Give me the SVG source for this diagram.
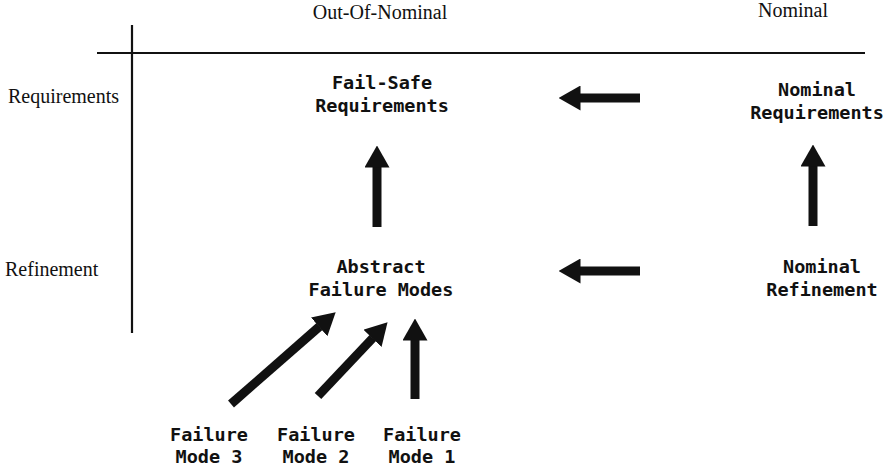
<svg xmlns="http://www.w3.org/2000/svg" width="892" height="469" viewBox="0 0 892 469">
<style>
.hdr{font-family:"Liberation Serif","Times New Roman",serif;font-size:20px;fill:#111}
.node{font-family:"DejaVu Sans Mono","Liberation Mono",monospace;font-size:18.5px;font-weight:bold;fill:#111;text-anchor:middle}
.axis{stroke:#111;stroke-width:2.2;fill:none}
.arr{stroke:#111;stroke-width:9;fill:none;marker-end:url(#head)}
</style>
<defs>
<marker id="head" viewBox="0 0 22 25" markerUnits="userSpaceOnUse" markerWidth="22" markerHeight="25" refX="0.5" refY="12.5" orient="auto">
<path d="M0,0 L22,12.5 L0,25 z" fill="#111"/>
</marker>
</defs>
<rect width="892" height="469" fill="#fff"/>
<g id="axes">
<line class="axis" x1="97" y1="53" x2="865" y2="53"/>
<line class="axis" x1="132" y1="25" x2="132" y2="333"/>
</g>
<g id="labels">
<text class="hdr" x="380" y="19" text-anchor="middle">Out-Of-Nominal</text>
<text class="hdr" x="793" y="17" text-anchor="middle">Nominal</text>
<text class="hdr" x="8" y="103">Requirements</text>
<text class="hdr" x="5" y="276">Refinement</text>
</g>
<g id="failsafe-requirements"><text class="node" x="382" y="89">Fail-Safe</text><text class="node" x="382" y="112">Requirements</text></g>
<g id="nominal-requirements"><text class="node" x="817" y="96">Nominal</text><text class="node" x="817" y="119">Requirements</text></g>
<g id="abstract-failure-modes"><text class="node" x="381" y="273">Abstract</text><text class="node" x="381" y="296">Failure Modes</text></g>
<g id="nominal-refinement"><text class="node" x="822" y="273">Nominal</text><text class="node" x="822" y="296">Refinement</text></g>
<g id="failure-mode-3"><text class="node" x="209" y="441">Failure</text><text class="node" x="209" y="463">Mode 3</text></g>
<g id="failure-mode-2"><text class="node" x="316" y="441">Failure</text><text class="node" x="316" y="463">Mode 2</text></g>
<g id="failure-mode-1"><text class="node" x="422" y="441">Failure</text><text class="node" x="422" y="463">Mode 1</text></g>
<g id="connectors">
<line class="arr" x1="377" y1="227" x2="377" y2="167"/>
<line class="arr" x1="813" y1="226" x2="813" y2="166"/>
<line class="arr" x1="640" y1="98" x2="580" y2="98"/>
<line class="arr" x1="640" y1="271" x2="580" y2="271"/>
<line class="arr" x1="231" y1="404" x2="319.5" y2="326.5"/>
<line class="arr" x1="318" y1="396" x2="372.8" y2="338"/>
<line class="arr" x1="415" y1="399" x2="415" y2="340"/>
</g>
</svg>
